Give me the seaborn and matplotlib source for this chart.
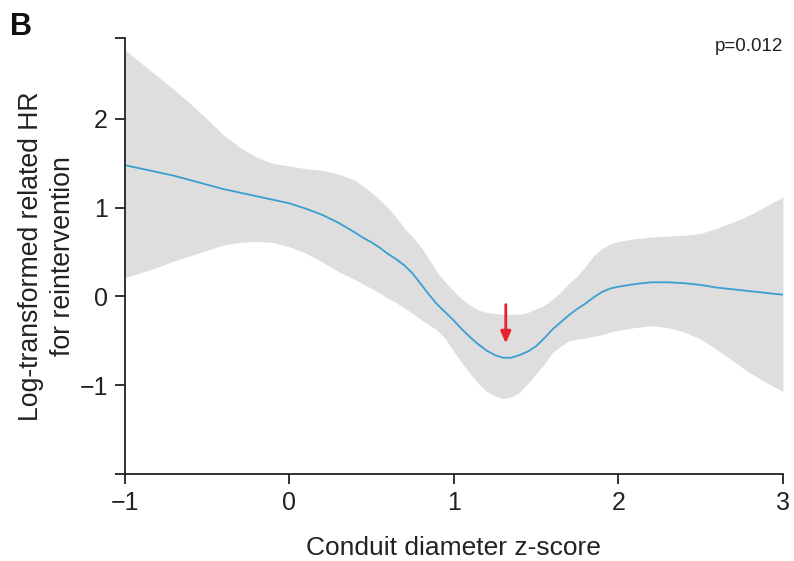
import matplotlib
matplotlib.use("Agg")
import matplotlib.pyplot as plt
import seaborn as sns
import pandas as pd

# ---- data ----
z_score = [-1.0, -0.9, -0.8, -0.7, -0.6, -0.5, -0.4, -0.3, -0.2, -0.1, 0.0, 0.1, 0.2, 0.3, 0.4,
           0.45, 0.5, 0.55, 0.6, 0.65, 0.7, 0.75, 0.8, 0.85, 0.9,
           0.95, 1.0, 1.05, 1.1, 1.15, 1.2, 1.25, 1.3, 1.35, 1.4,
           1.45, 1.5, 1.55, 1.6, 1.65, 1.7, 1.75, 1.8, 1.85, 1.9,
           1.95, 2.0,
           2.1, 2.2, 2.3, 2.4, 2.5, 2.6, 2.7, 2.8, 2.9, 3.0]
log_hr = [1.48, 1.44, 1.40, 1.36, 1.31, 1.26, 1.21, 1.17, 1.13, 1.09, 1.05, 0.99, 0.92, 0.83, 0.72,
          0.66, 0.61, 0.55, 0.48, 0.42, 0.35, 0.26, 0.14, 0.02, -0.09,
          -0.18, -0.27, -0.37, -0.46, -0.54, -0.61, -0.66, -0.69, -0.69, -0.66,
          -0.62, -0.56, -0.47, -0.37, -0.29, -0.21, -0.14, -0.08, -0.01, 0.05,
          0.09, 0.11,
          0.14, 0.16, 0.16, 0.15, 0.13, 0.10, 0.08, 0.06, 0.04, 0.02]
upper_ci = [2.78, 2.63, 2.48, 2.33, 2.17, 2.00, 1.82, 1.68, 1.57, 1.50, 1.47, 1.44, 1.42, 1.38, 1.31,
            1.24, 1.17, 1.09, 1.00, 0.89, 0.77, 0.67, 0.56, 0.42, 0.27,
            0.16, 0.06, -0.03, -0.10, -0.15, -0.18, -0.19, -0.20, -0.20, -0.20,
            -0.18, -0.14, -0.10, -0.03, 0.05, 0.15, 0.23, 0.34, 0.46, 0.54,
            0.59, 0.62,
            0.65, 0.67, 0.68, 0.69, 0.71, 0.77, 0.84, 0.92, 1.02, 1.12]
lower_ci = [0.21, 0.27, 0.33, 0.40, 0.46, 0.52, 0.58, 0.61, 0.62, 0.61, 0.56, 0.49, 0.39, 0.28, 0.19,
            0.14, 0.09, 0.04, -0.02, -0.07, -0.13, -0.19, -0.26, -0.32, -0.38,
            -0.48, -0.62, -0.75, -0.87, -0.98, -1.07, -1.12, -1.15, -1.13, -1.08,
            -0.98, -0.87, -0.76, -0.63, -0.56, -0.50, -0.48, -0.47, -0.45, -0.43,
            -0.40, -0.38,
            -0.35, -0.33, -0.35, -0.40, -0.48, -0.60, -0.73, -0.86, -0.97, -1.07]
x_ticks = [-1, 0, 1, 2, 3]
y_ticks = [-1, 0, 1, 2]
arrow_x = 1.316
arrow_from, arrow_to = -0.06, -0.56
p_text = "p=0.012"

df = pd.DataFrame({"z": z_score, "hr": log_hr, "lo": lower_ci, "hi": upper_ci})

sns.set_style("white")
plt.rcParams["font.family"] = ["Liberation Sans", "DejaVu Sans"]

fig = plt.figure(figsize=(7.94, 5.61), dpi=100)
ax = fig.add_axes([0.157, 0.155, 0.829, 0.777])

ax.fill_between(df["z"], df["lo"], df["hi"], color="#dedede", linewidth=0, zorder=1)
sns.lineplot(data=df, x="z", y="hr", ax=ax, color="#3a9fd0", linewidth=1.3, zorder=2)

ax.annotate("", xy=(arrow_x, arrow_to), xytext=(arrow_x, arrow_from),
            arrowprops=dict(arrowstyle="-|>,head_length=0.7,head_width=0.3",
                            color="#e8232b", lw=2.0), zorder=3)

ymin, ymax = -2.0, 2.91
ax.set_xlim(-1, 3)
ax.set_ylim(ymin, ymax)
ax.set_xticks(x_ticks)
ax.set_xticklabels([str(t).replace("-", "\u2212") for t in x_ticks])
ax.set_yticks([ymin] + y_ticks + [ymax])
ax.set_yticklabels([""] + [str(t).replace("-", "\u2212") for t in y_ticks] + [""])
ax.margins(0)

for s in ["top", "right"]:
    ax.spines[s].set_visible(False)
for s in ["left", "bottom"]:
    ax.spines[s].set_color("#222222")
    ax.spines[s].set_linewidth(1.3)

ax.tick_params(axis="both", which="major", direction="out", length=7, width=1.3,
               color="#222222", labelsize=18, labelcolor="#222222", pad=5,
               left=True, bottom=True)

ax.set_xlabel("Conduit diameter z-score", fontsize=19, color="#222222", labelpad=15)
ax.set_ylabel("Log-transformed related HR\nfor reintervention", fontsize=19.2,
              color="#222222", labelpad=2.5, linespacing=1.3)

ax.text(1.0, 1.0, p_text, transform=ax.transAxes, ha="right", va="top",
        fontsize=13.5, color="#222222")
fig.text(0.012, 0.978, "B", fontsize=22, fontweight="bold", ha="left", va="top",
         color="#111111")

fig.savefig("out.png", dpi=100)
